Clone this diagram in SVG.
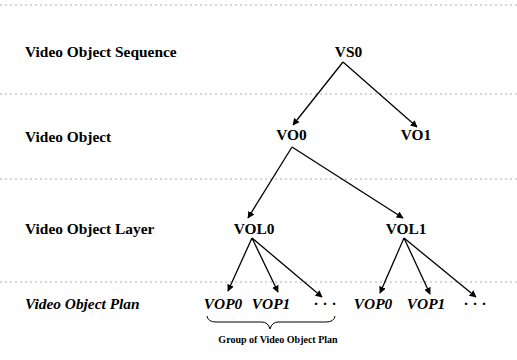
<svg xmlns="http://www.w3.org/2000/svg" width="517" height="360" viewBox="0 0 517 360">
<style>
.lbl{font-family:"Liberation Serif","DejaVu Serif",serif;font-weight:bold;font-size:15.4px;fill:#000}
.it{font-style:italic}
.small{font-size:10px}
.dash{stroke:#999;stroke-width:0.8;stroke-dasharray:2 3;fill:none}
.edge{stroke:#000;stroke-width:1.3;fill:none;marker-end:url(#ah)}
.mid{text-anchor:middle}
</style>
<defs>
<marker id="ah" viewBox="0 0 10 10" refX="9" refY="5" markerWidth="7" markerHeight="7" markerUnits="userSpaceOnUse" orient="auto">
<path d="M0,0 L10,5 L0,10 z" fill="#000"/>
</marker>
</defs>
<rect width="517" height="360" fill="#fff"/>
<g id="levels">
<line class="dash" x1="0" y1="5" x2="517" y2="5"/>
<line class="dash" x1="0" y1="94" x2="517" y2="94"/>
<line class="dash" x1="0" y1="179" x2="517" y2="179"/>
<line class="dash" x1="0" y1="282" x2="517" y2="282"/>
<text class="lbl" x="25" y="57">Video Object Sequence</text>
<text class="lbl" x="25" y="142">Video Object</text>
<text class="lbl" x="25" y="234">Video Object Layer</text>
<text class="lbl it" x="25" y="309">Video Object Plan</text>
</g>
<g id="connectors">
<line class="edge" x1="343" y1="62" x2="293" y2="125"/>
<line class="edge" x1="343" y1="62" x2="417" y2="127"/>
<line class="edge" x1="292" y1="147" x2="248" y2="218"/>
<line class="edge" x1="292" y1="147" x2="403" y2="218"/>
<line class="edge" x1="252" y1="238" x2="228" y2="291"/>
<line class="edge" x1="252" y1="238" x2="278" y2="292"/>
<line class="edge" x1="252" y1="238" x2="322" y2="297"/>
<line class="edge" x1="404" y1="238" x2="380" y2="293"/>
<line class="edge" x1="404" y1="238" x2="430" y2="294"/>
<line class="edge" x1="404" y1="238" x2="476" y2="297"/>
</g>
<g id="VS0"><text class="lbl mid" x="348.5" y="57">VS0</text></g>
<g id="VO0"><text class="lbl mid" x="291.5" y="140">VO0</text></g>
<g id="VO1"><text class="lbl mid" x="416" y="140">VO1</text></g>
<g id="VOL0"><text class="lbl mid" x="254" y="234">VOL0</text></g>
<g id="VOL1"><text class="lbl mid" x="406" y="234">VOL1</text></g>
<g id="VOP0a"><text class="lbl it mid" x="223" y="309">VOP0</text></g>
<g id="VOP1a"><text class="lbl it mid" x="271" y="309">VOP1</text></g>
<g id="dotsa"><text class="lbl mid" x="325" y="309">· · ·</text></g>
<g id="VOP0b"><text class="lbl it mid" x="373" y="309">VOP0</text></g>
<g id="VOP1b"><text class="lbl it mid" x="426" y="309">VOP1</text></g>
<g id="dotsb"><text class="lbl mid" x="475" y="309">· · ·</text></g>
<g id="group">
<path d="M207,316 Q208,322 216,322 L262,322 Q268,322 270,329 Q272,322 278,322 L326,322 Q334,322 335,316" fill="none" stroke="#000" stroke-width="1"/>
<text class="lbl small mid" x="278" y="343">Group of Video Object Plan</text>
</g>
</svg>
